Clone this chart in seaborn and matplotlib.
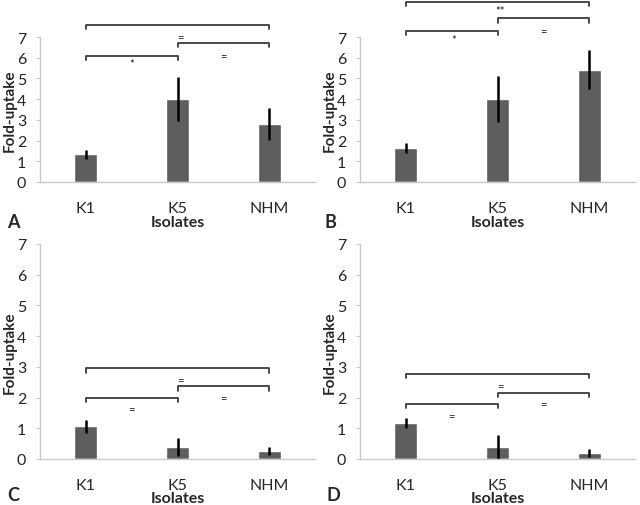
import numpy as np
import matplotlib
matplotlib.use("Agg")
import matplotlib.pyplot as plt
import seaborn as sns
import pandas as pd

# data
isolates = ["K1", "K5", "NHM"]
mean_a = [1.33, 4.0, 2.8]
err_a = [0.22, 1.07, 0.75]
mean_b = [1.65, 4.0, 5.43]
err_b = [0.25, 1.12, 0.93]
mean_c = [1.07, 0.4, 0.25]
err_c = [0.21, 0.29, 0.13]
mean_d = [1.17, 0.4, 0.2]
err_d = [0.16, 0.39, 0.12]

# brackets: (x1, x2, height), labels: (x, y, text)
brackets_a = [(0, 2, 7.6), (1, 2, 6.7), (0, 1, 6.1)]
labels_a = [(1.03, 7.0, "="), (0.5, 5.7, "*"), (1.5, 6.1, "=")]
brackets_b = [(0, 2, 8.7), (1, 2, 7.9), (0, 1, 7.3)]
labels_b = [(1.03, 8.3, "**"), (0.52, 6.9, "*"), (1.5, 7.3, "=")]
brackets_c = [(0, 2, 2.95), (1, 2, 2.37), (0, 1, 2.0)]
labels_c = [(1.03, 2.6, "="), (0.5, 1.65, "="), (1.5, 2.0, "=")]
brackets_d = [(0, 2, 2.77), (1, 2, 2.15), (0, 1, 1.8)]
labels_d = [(1.03, 2.4, "="), (0.5, 1.4, "="), (1.5, 1.8, "=")]

sns.set_style("white")
plt.rcParams["font.family"] = ["Lato", "DejaVu Sans"]

fig = plt.figure(figsize=(6.4, 5.06), dpi=100)
W, H = 640, 506


def make_ax(left, top, right, bottom):
    return fig.add_axes([left / W, 1 - bottom / H, (right - left) / W, (bottom - top) / H])


# (axes box in px, data..., letter, bracket tick height, ylabel x px, xlabel y px, letter pos)
panels = [
    ((40, 38, 315, 183), mean_a, err_a, brackets_a, labels_a, "A", 0.2, 10, 223, (7, 222)),
    ((360, 38, 635, 183), mean_b, err_b, brackets_b, labels_b, "B", 0.2, 330, 223, (325, 222)),
    ((40, 245, 315, 460), mean_c, err_c, brackets_c, labels_c, "C", 0.14, 10, 499, (7, 496)),
    ((360, 245, 635, 460), mean_d, err_d, brackets_d, labels_d, "D", 0.14, 330, 499, (326, 496)),
]

for box, means, errs, brackets, labels, letter, tick_h, ylx, xly, lpos in panels:
    left, top, right, bottom = box
    ax = make_ax(*box)
    df = pd.DataFrame({"Isolates": isolates, "Fold-uptake": means})
    sns.barplot(data=df, x="Isolates", y="Fold-uptake", color="#5e5e5e",
                saturation=1, width=0.25, errorbar=None, ax=ax)
    ax.errorbar(np.arange(len(means)), means, yerr=errs, fmt="none",
                ecolor="black", elinewidth=1.8, capsize=0)
    ax.set_xlim(-0.5, 2.5)
    ax.set_ylim(0, 7)
    ax.set_yticks(range(8))
    for sp in ["top", "right"]:
        ax.spines[sp].set_visible(False)
    for sp in ["left", "bottom"]:
        ax.spines[sp].set_color("#c8c8c8")
        ax.spines[sp].set_linewidth(1.0)
    ax.tick_params(axis="y", left=True, length=3, color="#c8c8c8",
                   labelsize=11.5, pad=7)
    ax.tick_params(axis="x", bottom=False, labelsize=11.5, pad=10)
    ax.set_xlabel("Isolates", fontsize=11.5, fontweight="bold", va="center")
    ax.set_ylabel("Fold-uptake", fontsize=11, fontweight="bold", va="center")
    ax.xaxis.set_label_coords(0.5, (bottom - xly) / (bottom - top))
    ax.yaxis.set_label_coords((ylx - left) / (right - left), 0.5)

    for x1, x2, y in brackets:
        ax.plot([x1, x1, x2, x2], [y - tick_h, y, y, y - tick_h],
                color="#3c3c3c", lw=1.3, clip_on=False)
    for x, y, t in labels:
        ax.text(x, y, t, ha="center", va="center", fontsize=8,
                color="#202020", clip_on=False)

    fig.text(lpos[0] / W, 1 - lpos[1] / H, letter, fontsize=13,
             fontweight="bold", va="center")

fig.savefig("out.png", dpi=100)
